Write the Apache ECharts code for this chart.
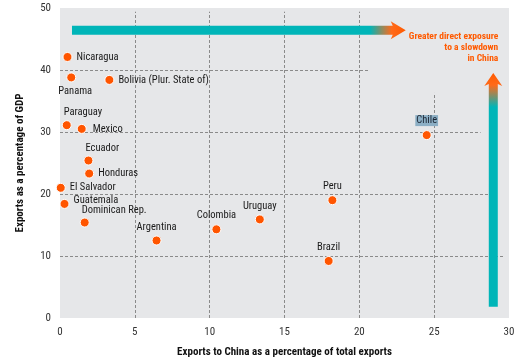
<!DOCTYPE html>
<html><head><meta charset="utf-8">
<script src="https://cdn.jsdelivr.net/npm/echarts@6/dist/echarts.min.js"></script>
<style>html,body{margin:0;padding:0;background:#fff}#c{width:525px;height:359px}</style>
</head><body><div id="c"></div>
<script>
var countries = ['Nicaragua','Panama','Bolivia (Plur. State of)','Paraguay','Mexico','Ecuador','Honduras','El Salvador','Guatemala','Dominican Rep.','Argentina','Colombia','Uruguay','Peru','Brazil','Chile'];
var chinaShare = [0.5,0.75,3.3,0.45,1.45,1.9,1.95,0.05,0.3,1.65,6.45,10.45,13.35,18.2,17.95,24.5];
var gdpShare = [42.1,38.8,38.4,31.1,30.5,25.4,23.3,21.0,18.4,15.4,12.5,14.3,15.9,19.0,9.2,29.5];
var labelPos = ['right','bottom','right','topRight','rightFar','topRight','right','right','guat','topRight','top','top','top','top','top','chile'];
var xTicks = [0,5,10,15,20,25,30];
var yTicks = [0,10,20,30,40,50];
// grid line extents (data units)
var hLines = [[10,0,29.7],[20,0,29.2],[30,0,28.1],[40,0,20.7]];
var vLines = [[5,0,49.4],[10,0,49.4],[15,0,49.4],[20,0,49.4],[25,0,36.3]];
var FONT = '"Roboto Condensed","DejaVu Sans Condensed",sans-serif';

var chart = echarts.init(document.getElementById('c'));
var pts = countries.map(function(n,i){
  var lp = labelPos[i];
  var lab = {show:true, formatter:n, fontFamily:FONT, fontSize:10.5, color:'#1a1a1a'};
  if(lp==='right'){lab.position='right';lab.distance=4;}
  else if(lp==='rightFar'){lab.position='right';lab.distance=6;}
  else if(lp==='bottom'){lab.position='bottom';lab.distance=3;lab.offset=[4,0];}
  else if(lp==='topRight'){lab.position='top';lab.align='left';lab.offset=[-3,1];lab.distance=3;}
  else if(lp==='guat'){lab.position='right';lab.offset=[0,-4];lab.distance=4;}
  else if(lp==='top'){lab.position='top';lab.distance=3;}
  else if(lp==='chile'){lab.position='top';lab.distance=4;lab.backgroundColor='#8cafc5';lab.color='#1b2533';lab.padding=[0,1];}
  return {value:[chinaShare[i],gdpShare[i]], label:lab};
});
var mlData = [];
hLines.forEach(function(h){mlData.push([{coord:[h[1],h[0]]},{coord:[h[2],h[0]]}]);});
vLines.forEach(function(v){mlData.push([{coord:[v[0],v[1]]},{coord:[v[0],v[2]]}]);});

chart.setOption({
  animation:false,
  grid:{left:60,right:16,top:8,bottom:41,show:true,backgroundColor:'#e6e7e9',borderWidth:0,
    containLabel:false,outerBoundsMode:'none'},
  xAxis:{type:'value',min:0,max:30,interval:5,
    name:'Exports to China as a percentage of total exports',nameLocation:'middle',nameGap:29,
    nameTextStyle:{fontFamily:FONT,fontWeight:'bold',fontSize:11,color:'#111'},
    axisLine:{show:false},axisTick:{show:false},splitLine:{show:false},
    axisLabel:{fontFamily:FONT,fontSize:11,color:'#333',margin:9}},
  yAxis:{type:'value',min:0,max:50,interval:10,
    name:'Exports as a percentage of GDP',nameLocation:'middle',nameGap:34,
    nameTextStyle:{fontFamily:FONT,fontWeight:'bold',fontSize:11,color:'#111'},
    axisLine:{show:false},axisTick:{show:false},splitLine:{show:false},
    axisLabel:{fontFamily:FONT,fontSize:11,color:'#333',margin:9}},
  series:[{type:'scatter',symbolSize:9,
    itemStyle:{color:'#ff5500',borderColor:'#fff',borderWidth:1,opacity:1},
    data:pts,z:5,
    markLine:{silent:true,symbol:['none','none'],label:{show:false},
      lineStyle:{color:'#8a8a8a',type:[3,2],width:1},data:mlData,z:1}
  }]
});

// annotation arrows (data coordinates)
var hArrow = {x0:0.8, x1:23.1, y:46.4};
var vArrow = {x:28.95, y0:1.8, y1:39.5};
function px(p){return chart.convertToPixel({gridIndex:0},p);}
var a0 = px([hArrow.x0,hArrow.y]), a1 = px([hArrow.x1,hArrow.y]);
var b0 = px([vArrow.x,vArrow.y0]), b1 = px([vArrow.x,vArrow.y1]);
var hx0=a0[0], hx1=a1[0], hy=a0[1];
var hGrad = new echarts.graphic.LinearGradient(hx0,0,hx1,0,[
  {offset:0,color:'#00b5b8'},{offset:(hx1-hx0-36)/(hx1-hx0),color:'#00b5b8'},
  {offset:(hx1-hx0-14)/(hx1-hx0),color:'#ff6a1a'},{offset:1,color:'#ff5a00'}],true);
var vx=b0[0], vy0=b0[1], vy1=b1[1];
var vGrad = new echarts.graphic.LinearGradient(0,vy0,0,vy1,[
  {offset:0,color:'#00b5b8'},{offset:(vy0-vy1-34)/(vy0-vy1),color:'#00b5b8'},
  {offset:(vy0-vy1-12)/(vy0-vy1),color:'#ff6a1a'},{offset:1,color:'#ff5a00'}],true);
chart.setOption({graphic:[
  {type:'polygon',z:10,shape:{points:[[hx0,hy-4.5],[hx1-13,hy-4.5],[hx1-15,hy-9],[hx1,hy],[hx1-15,hy+9],[hx1-13,hy+4.5],[hx0,hy+4.5]]},style:{fill:hGrad}},
  {type:'polygon',z:10,shape:{points:[[vx-4.5,vy0],[vx-4.5,vy1+11],[vx-9,vy1+13],[vx,vy1],[vx+9,vy1+13],[vx+4.5,vy1+11],[vx+4.5,vy0]]},style:{fill:vGrad}},
  {type:'text',z:10,x:vx+5,y:hy+1,style:{text:'Greater direct exposure\nto a slowdown\nin China',align:'right',verticalAlign:'top',
    fill:'#ff5a00',font:'bold 9.5px '+FONT,lineHeight:11}}
]});
</script></body></html>
